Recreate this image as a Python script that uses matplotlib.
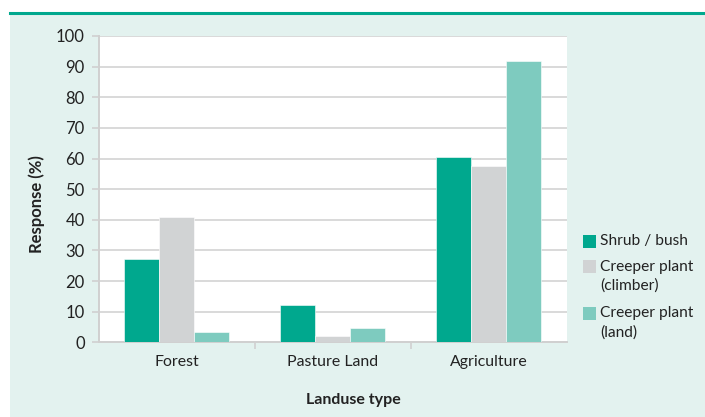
import matplotlib
matplotlib.use("Agg")
import matplotlib.pyplot as plt
import numpy as np
from matplotlib.patches import Rectangle
from matplotlib.lines import Line2D

categories = ["Forest", "Pasture Land", "Agriculture"]
series_names = ["Shrub / bush", "Creeper plant\n(climber)", "Creeper plant\n(land)"]
shrub = [27.3, 12.2, 60.4]
climber = [41.0, 1.9, 57.4]
land = [3.3, 4.6, 92.0]
yticks = [0, 10, 20, 30, 40, 50, 60, 70, 80, 90, 100]

colors = ["#00A88E", "#D1D3D4", "#7ECBBF"]
bg = "#E3F2EF"
plt.rcParams['font.family'] = ['Lato', 'DejaVu Sans']

W, H = 705, 417
fig = plt.figure(figsize=(W / 100, H / 100), dpi=100)
fig.patch.set_facecolor("white")
# background panel
fig.patches.append(Rectangle((10 / W, 0), 1 - 10 / W, 1 - 14 / H, transform=fig.transFigure,
                             facecolor=bg, edgecolor="none", zorder=-10))
fig.add_artist(Line2D([10 / W, 1], [1 - 13 / H, 1 - 13 / H], transform=fig.transFigure,
                      color="#00A88E", linewidth=2.2, zorder=-9))

ax = fig.add_axes([98.7 / W, 1 - 342.3 / H, (566.7 - 98.7) / W, (342.3 - 36) / H])
ax.set_facecolor("white")

x = np.arange(len(categories))
bw = 0.224
for i, vals in enumerate([shrub, climber, land]):
    ax.bar(x + (i - 1) * bw, vals, width=bw, color=colors[i], zorder=3,
           edgecolor="white", linewidth=0.4)

ax.set_xlim(-0.5, 2.5)
ax.set_ylim(0, 100)
ax.set_yticks(yticks)
ax.set_yticklabels([str(t) for t in yticks], fontsize=12, color="#222222")
ax.yaxis.grid(True, color="#D9D9D9", linewidth=1.4, zorder=0)
ax.set_axisbelow(True)

ax.set_xticks(x)
ax.set_xticklabels(categories, fontsize=11.4, color="#222222")
ax.tick_params(axis="x", length=0, pad=9)
ax.set_xticks([0.5, 1.5], minor=True)
ax.tick_params(axis="x", which="minor", length=5, color="#D0D0D0", width=1.2)
ax.tick_params(axis="y", length=5, color="#D0D0D0", width=1.2, pad=5)

for s in ["top", "right"]:
    ax.spines[s].set_visible(False)
for s in ["left", "bottom"]:
    ax.spines[s].set_color("#D0D0D0")
    ax.spines[s].set_linewidth(1.4)

ax.set_ylabel("Response (%)", fontsize=12, fontweight="bold", color="#222222")
ax.set_xlabel("Landuse type", fontsize=11.5, fontweight="bold", color="#222222")
ax.yaxis.set_label_coords((37 - 98.7) / 468, (342.3 - 204) / 306.3)
ax.xaxis.set_label_coords((353 - 98.7) / 468, -(400 - 342.3) / 306.3)
ax.xaxis.label.set_va("center")
ax.yaxis.label.set_va("center")

# legend drawn manually
leg_y = [241, 266, 313]
for i, name in enumerate(series_names):
    yc = leg_y[i]
    fig.patches.append(Rectangle((583 / W, 1 - (yc + 6.5) / H), 13 / W, 13 / H,
                                 transform=fig.transFigure, facecolor=colors[i],
                                 edgecolor="none"))
    fig.text(600 / W, 1 - (yc - 6.5) / H, name, fontsize=11.2, color="#222222",
             va="top", ha="left", linespacing=1.42)

fig.savefig("out.png", dpi=100, facecolor=fig.get_facecolor())
